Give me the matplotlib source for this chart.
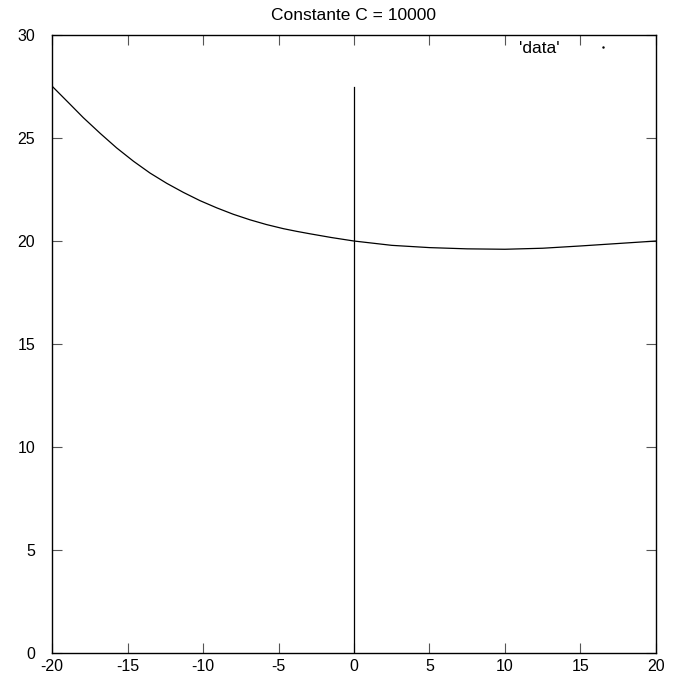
import matplotlib.pyplot as plt
from matplotlib.lines import Line2D

plt.rcParams['font.family'] = ['Liberation Sans', 'DejaVu Sans']
plt.rcParams['axes.unicode_minus'] = False

# curve
x_vals = [-20, -18.9, -17.93, -16.8, -15.72, -14.6, -13.51, -12.4, -11.3, -10.2, -9.09,
          -8.0, -6.89, -5.8, -4.68, -3.8, -2.91, -1.5, 0,
          2.5, 5, 7.5, 10, 12.5, 15, 17.5, 20]
y_vals = [27.52, 26.71, 25.99, 25.22, 24.52, 23.87, 23.3, 22.8, 22.36, 21.96, 21.61,
          21.3, 21.03, 20.8, 20.6, 20.47, 20.35, 20.17, 20.0,
          19.79, 19.68, 19.62, 19.6, 19.65, 19.76, 19.88, 20.0]
# vertical segment at x = 0
vline_x = [0, 0]
vline_y = [0, 27.5]

xticks = [-20, -15, -10, -5, 0, 5, 10, 15, 20]
yticks = [0, 5, 10, 15, 20, 25, 30]

fig = plt.figure(figsize=(6.73, 6.75), dpi=100)
ax = fig.add_axes([0.0773, 0.0326, 0.8974, 0.9155])

ax.plot(x_vals, y_vals, color='black', lw=0.9)
ax.plot(vline_x, vline_y, color='black', lw=0.9)

ax.set_xlim(-20, 20)
ax.set_ylim(0, 30)
ax.set_xticks(xticks)
ax.set_yticks(yticks)
ax.tick_params(direction='in', length=7, width=0.8, top=True, right=True,
               labelsize=11.5, color='#555555')
ax.tick_params(axis='x', pad=4)
ax.tick_params(axis='y', pad=12)
for s in ax.spines.values():
    s.set_linewidth(1.0)

ax.set_title('Constante C = 10000', fontsize=12.5, pad=11)

h = Line2D([], [], marker='.', markersize=1.5, linestyle='none', color='black')
ax.legend([h], ["'data'"], loc='upper right', frameon=False, markerfirst=False,
          fontsize=12.5, handlelength=3, handletextpad=1.0,
          bbox_to_anchor=(0.975, 1.01), borderaxespad=0.3)

fig.savefig('out.png', dpi=100)
